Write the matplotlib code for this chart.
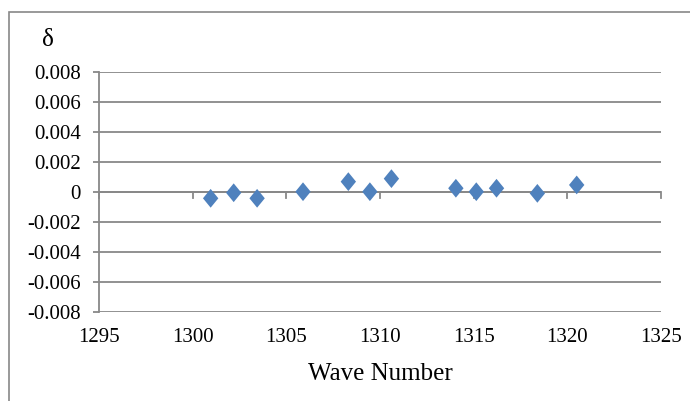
import matplotlib
matplotlib.use("Agg")
import matplotlib.pyplot as plt
from matplotlib.path import Path
from matplotlib.patches import Rectangle

wave_number = [1300.96, 1302.19, 1303.44, 1305.89, 1308.31, 1309.46, 1310.61,
               1314.05, 1315.14, 1316.22, 1318.40, 1320.50]
delta = [-0.00044, -0.00007, -0.00044, 0.0, 0.00067, 0.0, 0.00087,
         0.00023, 0.0, 0.00023, -0.00011, 0.00045]
x_ticks = [1295, 1300, 1305, 1310, 1315, 1320, 1325]
y_ticks = [-0.008, -0.006, -0.004, -0.002, 0, 0.002, 0.004, 0.006, 0.008]
y_tick_labels = ["-0.008", "-0.006", "-0.004", "-0.002", "0",
                 "0.002", "0.004", "0.006", "0.008"]

plt.rcParams['font.family'] = ['Liberation Serif', 'DejaVu Serif']

W, H = 690, 401
fig = plt.figure(figsize=(W / 100, H / 100), dpi=100)
ax = fig.add_axes([99 / W, 1 - 311.7 / H, 562 / W, 240 / H])

grid_c = '#888888'
diamond = Path([(0, 1), (0.82, 0), (0, -1), (-0.82, 0), (0, 1)],
               [Path.MOVETO, Path.LINETO, Path.LINETO, Path.LINETO, Path.CLOSEPOLY])

ax.scatter(wave_number, delta, marker=diamond, s=13.5 ** 2, color='#4F81BD',
           edgecolors='none', zorder=5, clip_on=False)

ax.set_xlim(1295, 1325)
ax.set_ylim(-0.008, 0.008)
ax.set_yticks(y_ticks)
ax.set_yticklabels(y_tick_labels)
ax.set_xticks(x_ticks)
ax.set_xticklabels([str(t) for t in x_ticks])

ax.grid(axis='y', color=grid_c, linewidth=1.3)
ax.set_axisbelow(True)
for s in ['top', 'right', 'bottom']:
    ax.spines[s].set_visible(False)
ax.spines['left'].set_color(grid_c)
ax.spines['left'].set_linewidth(1.3)

# x axis drawn at y = 0 with ticks crossing down
ax.axhline(0, color=grid_c, linewidth=1.3, zorder=2)
for t in x_ticks:
    ax.plot([t, t], [0, -0.0004], color=grid_c, linewidth=1.3, zorder=2, clip_on=False)
ax.tick_params(axis='x', length=0, pad=12, labelsize=15)
ax.tick_params(axis='y', length=4, width=1.3, color=grid_c, pad=9, labelsize=15)

ax.set_xlabel('Wave Number', fontsize=18, labelpad=11)
fig.text(48 / W, 1 - 40 / H, 'δ', fontsize=18, ha='center', va='center')

fig.patches.append(Rectangle((8.5 / W, -0.05), 2, 1 - 12 / H + 0.05,
                             transform=fig.transFigure, fill=False,
                             edgecolor='#888888', linewidth=1.2))

fig.savefig('out.png', dpi=100)
